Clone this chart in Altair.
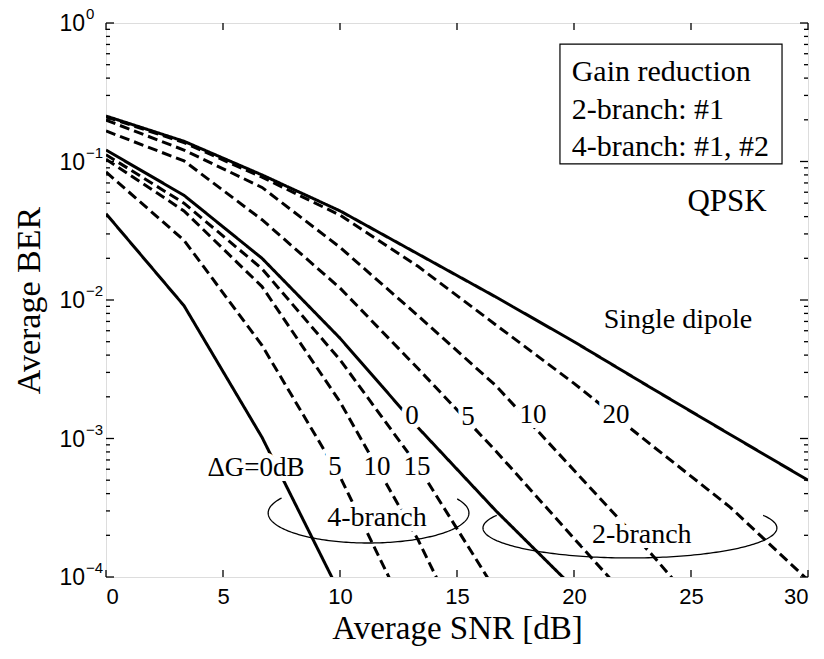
import altair as alt
import pandas as pd
import numpy as np

# ---------------- data ----------------
snr = [0, 3.333, 6.667, 10, 13.333, 16.667, 20, 23.333, 26.667, 30]

single_dipole = [0.213, 0.140, 0.080, 0.044, 0.0215, 0.0105, 0.0050, 0.0023, 0.00107, 0.00050]
br2_dg20 = [0.210, 0.137, 0.077, 0.041, 0.0175, 0.0066, 0.0025, 0.00089, 0.00032, 0.000095]
br2_dg10 = [0.199, 0.121, 0.065, 0.024, 0.0077, 0.0024, 0.00059, 0.000145, 0.000032]
br2_dg5 = [0.166, 0.101, 0.038, 0.0122, 0.0032, 0.00081, 0.00019, 0.000045]
br2_dg0 = [0.121, 0.057, 0.0200, 0.0053, 0.0012, 0.00030, 0.000083]
br4_dg15 = [0.112, 0.050, 0.0168, 0.0037, 0.00063, 0.000079]
br4_dg10 = [0.104, 0.044, 0.0125, 0.00184, 0.000186, 0.000013]
br4_dg5 = [0.084, 0.027, 0.0047, 0.00053, 0.000037]
br4_dg0 = [0.042, 0.0091, 0.00102, 0.000076]

series = [
    ("Single dipole", "solid", single_dipole),
    ("2-branch dG=20", "dashed", br2_dg20),
    ("2-branch dG=10", "dashed", br2_dg10),
    ("2-branch dG=5", "dashed", br2_dg5),
    ("2-branch dG=0", "solid", br2_dg0),
    ("4-branch dG=15", "dashed", br4_dg15),
    ("4-branch dG=10", "dashed", br4_dg10),
    ("4-branch dG=5", "dashed", br4_dg5),
    ("4-branch dG=0", "solid", br4_dg0),
]

x_ticks = [0, 5, 10, 15, 20, 25, 30]
y_decades = [1e-4, 1e-3, 1e-2, 1e-1, 1]
y_exponents = ["\u22124", "\u22123", "\u22122", "\u22121", "0"]
y_minor = [m * d for d in [1e-4, 1e-3, 1e-2, 1e-1] for m in range(2, 10)]

# annotations: text, snr, ber
curve_labels = [
    ("\u0394G=0dB", 6.41, 6.1e-4), ("5", 9.79, 6.2e-4), ("10", 11.58, 6.2e-4),
    ("15", 13.29, 6.2e-4), ("0", 13.08, 1.45e-3), ("5", 15.47, 1.43e-3),
    ("10", 18.25, 1.47e-3), ("20", 21.8, 1.47e-3),
]
group_labels = [("4-branch", 11.58, 2.67e-4), ("2-branch", 22.9, 2.0e-4),
                ("Single dipole", 24.44, 7.2e-3)]
qpsk_label = [("QPSK", 26.54, 0.051)]
legend_lines = [("Gain reduction", 19.9, 0.443), ("2-branch: #1", 19.9, 0.235),
                ("4-branch: #1, #2", 19.9, 0.127)]
legend_box = [(19.4, 28.89, 0.705, 0.096)]
# ellipse annotations: name, centre snr, half width (dB), centre log10(BER), half height (decades), arc start/end (deg)
ellipses = [("4-branch", 11.22, 4.29, -3.538, 0.2166, 150, 388),
            ("2-branch", 22.39, 6.28, -3.646, 0.2166, 155, 385)]

# ---------------- tables ----------------
rows = []
for name, style, vals in series:
    for x, v in zip(snr, vals):
        rows.append({"series": name, "style": style, "snr": x, "ber": v})
df = pd.DataFrame(rows)

ell_rows = []
for name, xc, a, yc, b, t0, t1 in ellipses:
    th = np.radians(np.linspace(t0, t1, 161))
    for i, t in enumerate(th):
        ell_rows.append({"group": name, "i": i, "snr": xc + a * np.cos(t),
                         "ber": 10 ** (yc + b * np.sin(t))})
df_ell = pd.DataFrame(ell_rows)

def tdf(items):
    return pd.DataFrame([{"text": t, "snr": x, "ber": y} for t, x, y in items])

W, H = 702, 554
xscale = alt.Scale(domain=[0, 30], nice=False, zero=False)
yscale = alt.Scale(type="log", domain=[1e-4, 1], nice=False)

main_x_axis = alt.Axis(orient="bottom", values=x_ticks, ticks=False, domain=False, grid=False,
                       format="d", labelFont="Liberation Sans", labelFontSize=22, labelColor="black",
                       labelPadding=9, title="Average SNR [dB]", titleFont="Liberation Serif",
                       titleFontSize=33, titleFontWeight="normal", titleColor="black", titlePadding=5)
main_y_axis = alt.Axis(orient="left", ticks=False, domain=False, grid=False, labels=False,
                       title="Average BER", titleFont="Liberation Serif", titleFontSize=34,
                       titleFontWeight="normal", titleColor="black", titlePadding=60)

lines = alt.Chart(df).mark_line(clip=True, color="black", strokeWidth=3).encode(
    x=alt.X("snr:Q", scale=xscale, axis=main_x_axis),
    y=alt.Y("ber:Q", scale=yscale, axis=main_y_axis),
    detail="series:N",
    strokeDash=alt.StrokeDash("style:N", scale=alt.Scale(domain=["solid", "dashed"],
                                                         range=[[1, 0], [10, 5]]), legend=None),
)

# inward tick marks on all four sides (positions through the scales)
df_ydec = pd.DataFrame({"ber": y_decades, "exp": y_exponents, "base": ["10"] * len(y_decades)})
df_ymin = pd.DataFrame({"ber": y_minor})
df_xt = pd.DataFrame({"snr": x_ticks})

def yticks(data, x0, x1):
    return alt.Chart(data).mark_rule(color="black", strokeWidth=1.3).encode(
        y=alt.Y("ber:Q", scale=yscale, axis=None), x=alt.value(x0), x2=alt.value(x1))

def xticks(y0, y1):
    return alt.Chart(df_xt).mark_rule(color="black", strokeWidth=1.3).encode(
        x=alt.X("snr:Q", scale=xscale, axis=None), y=alt.value(y0), y2=alt.value(y1))

tick_layers = [
    yticks(df_ydec, 0, 8), yticks(df_ydec, W, W - 8),
    yticks(df_ymin, 0, 4), yticks(df_ymin, W, W - 4),
    xticks(H, H - 7), xticks(0, 7),
]

ylab_base = alt.Chart(df_ydec).mark_text(font="Liberation Sans", fontSize=23, align="right",
                                         baseline="middle", color="black", dy=1).encode(
    y=alt.Y("ber:Q", scale=yscale, axis=None), x=alt.value(-21), text="base:N")
ylab_exp = alt.Chart(df_ydec).mark_text(font="Liberation Sans", fontSize=15, align="left",
                                        baseline="middle", color="black", dy=-9).encode(
    y=alt.Y("ber:Q", scale=yscale, axis=None), x=alt.value(-20), text="exp:N")

ell = alt.Chart(df_ell).mark_line(color="black", strokeWidth=1.3).encode(
    x=alt.X("snr:Q", scale=xscale, axis=None),
    y=alt.Y("ber:Q", scale=yscale, axis=None),
    detail="group:N",
    order="i:Q",
)

def text_layers(data, size, align="center"):
    base = alt.Chart(data).encode(
        x=alt.X("snr:Q", scale=xscale, axis=None),
        y=alt.Y("ber:Q", scale=yscale, axis=None),
        text="text:N",
    )
    halo = base.mark_text(font="Liberation Serif", fontSize=size, align=align, baseline="middle",
                          color="white", stroke="white", strokeWidth=10)
    txt = base.mark_text(font="Liberation Serif", fontSize=size, align=align, baseline="middle",
                         color="black")
    return [halo, txt]

box = alt.Chart(pd.DataFrame([{"x1": a, "x2": b, "y1": c, "y2": d} for a, b, c, d in legend_box])).mark_rect(
    fill="white", stroke="black", strokeWidth=1.2).encode(
    x=alt.X("x1:Q", scale=xscale, axis=None), x2="x2:Q",
    y=alt.Y("y1:Q", scale=yscale, axis=None), y2="y2:Q",
)

legend_txt = alt.Chart(tdf(legend_lines)).mark_text(
    font="Liberation Serif", fontSize=30, align="left", baseline="middle", color="black").encode(
    x=alt.X("snr:Q", scale=xscale, axis=None),
    y=alt.Y("ber:Q", scale=yscale, axis=None),
    text="text:N",
)

layers = [lines] + tick_layers + [ylab_base, ylab_exp, ell]
layers += text_layers(tdf(curve_labels), 27)
layers += text_layers(tdf(group_labels), 28)
layers += text_layers(tdf(qpsk_label), 31)
layers += [box, legend_txt]

chart = alt.layer(*layers).resolve_axis(x="independent", y="independent").properties(
    width=W, height=H,
    autosize=alt.AutoSizeParams(type="none"),
    padding={"left": 106, "top": 23, "right": 16, "bottom": 82},
).configure_view(stroke="black", strokeWidth=2).configure(background="white")

chart.save("out.html", embed_options={"renderer": "svg", "actions": False})
